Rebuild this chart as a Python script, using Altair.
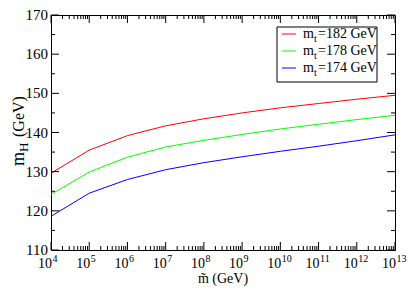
import altair as alt
import pandas as pd

# ---- data ----
exponents = [4, 5, 6, 7, 8, 9, 10, 11, 12, 13]
mt182 = [129.6, 135.5, 139.2, 141.7, 143.5, 145.0, 146.3, 147.4, 148.5, 149.5]
mt178 = [124.2, 129.9, 133.7, 136.3, 138.0, 139.5, 140.9, 142.1, 143.3, 144.4]
mt174 = [118.6, 124.5, 128.0, 130.5, 132.3, 133.8, 135.2, 136.5, 137.9, 139.4]
series_labels = ["182", "178", "174"]
series_colors = ["#ff0000", "#00ff00", "#0000ff"]
y_ticks = [110, 120, 130, 140, 150, 160, 170]
y_minor = [115, 125, 135, 145, 155, 165]
minor_mult = [2, 3, 4, 5, 6, 7, 8, 9]

W, H = 344, 235
TOP = 7
FONT = "Liberation Serif"

rows = []
for lab, vals in zip(series_labels, [mt182, mt178, mt174]):
    for e, v in zip(exponents, vals):
        rows.append({"x": 10.0 ** e, "y": v, "s": lab})
df = pd.DataFrame(rows)

xs = alt.Scale(type="log", domain=[1e4, 1e13], nice=False)
ys = alt.Scale(domain=[110, 170], nice=False, zero=False)

lines = alt.Chart(df).mark_line(strokeWidth=1).encode(
    x=alt.X("x:Q", scale=xs, axis=None),
    y=alt.Y("y:Q", scale=ys, axis=None),
    color=alt.Color("s:N", scale=alt.Scale(domain=series_labels, range=series_colors), legend=None),
    detail="s:N",
)

xmaj = pd.DataFrame({"x": [10.0 ** e for e in exponents], "e": [str(e) for e in exponents]})
xmin = pd.DataFrame({"x": [m * 10.0 ** e for e in exponents[:-1] for m in minor_mult]})
ymaj = pd.DataFrame({"y": y_ticks, "t": [str(v) for v in y_ticks]})
ymin = pd.DataFrame({"y": y_minor})

def xtick(d, length, top):
    if top:
        yy, yy2 = 0, length
    else:
        yy, yy2 = H, H - length
    return alt.Chart(d).mark_rule(color="black", strokeWidth=1).encode(
        x=alt.X("x:Q", scale=xs, axis=None), y=alt.value(yy), y2=alt.value(yy2))

def ytick(d, length, right):
    if right:
        xx, xx2 = W, W - length
    else:
        xx, xx2 = 0, length
    return alt.Chart(d).mark_rule(color="black", strokeWidth=1).encode(
        y=alt.Y("y:Q", scale=ys, axis=None), x=alt.value(xx), x2=alt.value(xx2))

ticks = [xtick(xmaj, 8, False), xtick(xmaj, 8, True), xtick(xmin, 4, False), xtick(xmin, 4, True),
         ytick(ymaj, 8, False), ytick(ymaj, 8, True), ytick(ymin, 4, False), ytick(ymin, 4, True)]

ylabels = alt.Chart(ymaj).mark_text(font=FONT, fontSize=15, align="right", baseline="middle",
                                    color="black").encode(
    y=alt.Y("y:Q", scale=ys, axis=None), x=alt.value(-3), text="t:N")

ten = alt.Chart(xmaj).mark_text(font=FONT, fontSize=14, align="right", baseline="alphabetic",
                                color="black", dx=1).encode(
    x=alt.X("x:Q", scale=xs, axis=None), y=alt.value(H + 18), text=alt.value("10"))
expo = alt.Chart(xmaj).mark_text(font=FONT, fontSize=10, align="left", baseline="alphabetic",
                                 color="black", dx=1.5).encode(
    x=alt.X("x:Q", scale=xs, axis=None), y=alt.value(H + 12), text="e:N")

one = xmaj.head(1)[["e"]]
xtitle = alt.Chart(one).mark_text(font=FONT, fontSize=14, align="center",
                                  baseline="alphabetic", color="black").encode(
    x=alt.value(W / 2), y=alt.value(H + 33), text=alt.value("m\u0303 (GeV)"))

yt_base = alt.Chart(one)
YX, YY = -27, 151
ym = yt_base.mark_text(font=FONT, fontSize=18, angle=270, align="left", baseline="alphabetic",
                       color="black").encode(x=alt.value(YX), y=alt.value(YY), text=alt.value("m"))
yH = yt_base.mark_text(font=FONT, fontSize=13, angle=270, align="left", baseline="alphabetic",
                       color="black", dx=14, dy=4).encode(x=alt.value(YX), y=alt.value(YY), text=alt.value("H"))
yG = yt_base.mark_text(font=FONT, fontSize=16, angle=270, align="left", baseline="alphabetic",
                       color="black", dx=29).encode(x=alt.value(YX), y=alt.value(YY), text=alt.value("(GeV)"))

leg = [yt_base.mark_rect(fill="white", stroke="black", strokeWidth=1).encode(
    x=alt.value(226), x2=alt.value(326), y=alt.value(12), y2=alt.value(67))]
for i, (lab, col) in enumerate(zip(series_labels, series_colors)):
    yy = 19 + i * 17
    leg.append(yt_base.mark_rule(color=col, strokeWidth=1).encode(
        x=alt.value(231), x2=alt.value(245), y=alt.value(yy)))
    leg.append(yt_base.mark_text(font=FONT, fontSize=14, align="left", baseline="middle", color="black").encode(
        x=alt.value(252), y=alt.value(yy), text=alt.value("m")))
    leg.append(yt_base.mark_text(font=FONT, fontSize=10, align="left", baseline="middle", color="black",
                                 dy=5).encode(x=alt.value(263), y=alt.value(yy), text=alt.value("t")))
    leg.append(yt_base.mark_text(font=FONT, fontSize=14, align="left", baseline="middle", color="black").encode(
        x=alt.value(267), y=alt.value(yy), text=alt.value("=" + lab + " GeV")))

chart = alt.layer(lines, *ticks, ylabels, ten, expo, xtitle, ym, yH, yG, *leg).properties(
    width=W, height=H, autosize=alt.AutoSizeParams(type="none"),
    padding={"left": 43, "top": TOP, "right": 12, "bottom": 36},
).configure_view(stroke="black", strokeWidth=1)

chart.save("out.html", embed_options={"renderer": "svg", "actions": False})
